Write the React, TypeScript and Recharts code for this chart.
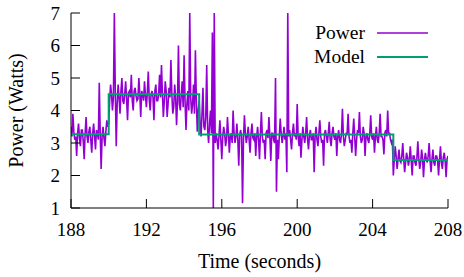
import React from 'react';
import { LineChart, Line, XAxis, YAxis, Legend, Label } from 'recharts';

const T_START = 188;
const T_STEP = 0.05;
// power samples, one row per second (20 samples each)
const powerWatts = [
  3.5, 3.2, 3.9, 3.35, 3.1, 3.2, 2.6, 3.3, 3.6, 3.15, 2.9, 3.4, 3.4, 3.05, 2.5, 3.3, 3.8, 3.2, 3.0, 3.35,
  3.5, 3.1, 2.7, 3.3, 3.6, 3.2, 2.8, 3.4, 3.3, 3.1, 4.85, 3.3, 2.2, 3.2, 3.5, 3.15, 2.9, 3.35, 3.7, 3.5,
  3.6, 4.3, 4.8, 4.5, 4.0, 4.4, 7.0, 4.6, 2.9, 4.2, 4.8, 4.4, 3.9, 4.6, 5.0, 4.3, 4.2, 4.5, 4.9, 4.35,
  3.7, 4.55, 4.6, 4.4, 5.1, 4.3, 4.0, 4.6, 4.7, 4.45, 4.3, 4.35, 5.0, 4.5, 3.8, 4.6, 4.5, 4.3, 4.9, 4.45,
  4.1, 4.55, 5.2, 4.35, 4.0, 4.5, 4.6, 4.4, 3.7, 4.6, 4.8, 4.3, 4.3, 4.5, 5.1, 4.4, 5.4, 4.5, 3.8, 4.3,
  4.9, 4.6, 3.8, 4.2, 4.7, 4.4, 5.55, 4.5, 3.9, 4.1, 4.8, 4.4, 3.55, 4.3, 6.0, 4.2, 4.0, 4.5, 4.9, 4.1,
  5.7, 4.3, 3.4, 4.2, 4.6, 4.0, 7.0, 4.4, 3.9, 4.2, 4.8, 3.9, 5.85, 4.3, 3.35, 4.0, 4.3, 3.6, 3.2, 3.9,
  4.7, 3.5, 3.4, 3.8, 5.4, 3.4, 3.0, 3.6, 4.0, 3.3, 6.4, 1.0, 7.0, 3.0, 3.3, 3.1, 2.8, 3.2, 3.7, 3.1,
  2.5, 3.2, 3.5, 3.3, 2.9, 3.1, 3.8, 3.3, 2.7, 3.2, 3.3, 3.0, 4.0, 3.3, 3.0, 3.2, 3.6, 3.1, 2.3, 3.25,
  3.4, 3.2, 1.15, 3.1, 3.85, 3.3, 3.0, 3.2, 3.5, 3.1, 2.7, 3.3, 3.6, 3.15, 3.1, 3.3, 2.6, 3.2, 3.5, 3.1,
  2.5, 3.3, 3.95, 3.2, 3.0, 3.1, 2.5, 3.3, 3.4, 3.15, 3.8, 3.2, 2.45, 3.3, 3.3, 3.1, 3.0, 5.0, 1.5, 3.1,
  2.5, 3.2, 3.75, 3.3, 3.0, 3.2, 3.5, 3.1, 3.3, 2.1, 7.0, 3.2, 3.4, 3.1, 2.8, 3.3, 3.6, 3.2, 3.3, 3.1,
  4.2, 3.2, 2.9, 3.3, 2.55, 3.1, 3.5, 3.2, 3.0, 3.3, 3.8, 3.1, 2.8, 3.25, 3.4, 3.1, 3.1, 3.3, 2.1, 3.2,
  3.5, 3.1, 2.9, 3.3, 3.7, 3.2, 3.0, 3.1, 2.3, 3.3, 3.4, 3.2, 3.0, 3.3, 3.65, 3.1, 2.9, 3.3, 3.5, 3.2,
  3.1, 3.3, 2.6, 3.2, 3.4, 3.1, 3.0, 3.3, 4.05, 3.2, 2.9, 3.1, 3.3, 3.3, 3.9, 3.2, 3.0, 3.1, 2.7, 3.3,
  3.75, 3.2, 2.6, 3.1, 3.4, 3.3, 3.95, 3.2, 3.0, 3.1, 3.5, 3.3, 2.6, 3.2, 3.3, 3.1, 3.0, 3.3, 3.85, 3.2,
  3.1, 3.3, 2.7, 3.2, 3.5, 3.1, 3.0, 3.3, 3.9, 3.2, 3.2, 3.1, 2.65, 3.3, 3.4, 3.2, 4.0, 3.3, 3.3, 3.1,
  3.0, 3.1, 2.0, 2.5, 2.9, 2.6, 2.2, 2.5, 2.8, 2.45, 2.4, 2.6, 3.0, 2.5, 2.1, 2.4, 2.7, 2.55, 2.3, 2.5,
  2.9, 2.45, 2.0, 2.6, 2.6, 2.4, 2.3, 2.55, 3.05, 2.5, 2.2, 2.4, 2.8, 2.55, 1.95, 2.45, 2.7, 2.5, 2.4, 2.6,
  3.0, 2.45, 2.1, 2.5, 2.8, 2.4, 2.3, 2.6, 2.6, 2.45, 2.0, 2.5, 2.9, 2.4, 2.2, 2.55, 2.7, 2.45, 1.95, 2.5,
  2.6,
];
const modelTimes = [188, 190.0, 194.8, 205.1, 208];
const modelWatts = [3.27, 4.5, 3.26, 2.48, 2.48];
const xTicks = [188, 192, 196, 200, 204, 208];
const yTicks = [1, 2, 3, 4, 5, 6, 7];

const powerData = powerWatts.map((p, i) => ({ t: +(T_START + i * T_STEP).toFixed(3), power: p }));
const modelData = modelTimes.map((t, i) => ({ t, model: modelWatts[i] }));

const FONT = "'Liberation Serif', 'Times New Roman', serif";
const POWER_COLOR = '#9400d3';
const MODEL_COLOR = '#009e73';

const legendContent = () => (
  <svg width={150} height={60} style={{ display: 'block' }}>
    <text x={77} y={19} textAnchor="end" style={{ fontFamily: FONT, fontSize: 19.5 }} fill="#000">Power</text>
    <line x1={89} x2={140} y1={13} y2={13} stroke={POWER_COLOR} strokeWidth={1.5} />
    <text x={77} y={43} textAnchor="end" style={{ fontFamily: FONT, fontSize: 19.5 }} fill="#000">Model</text>
    <line x1={89} x2={140} y1={37} y2={37} stroke={MODEL_COLOR} strokeWidth={2} />
  </svg>
);

const XTick = (props: any) => {
  const { x, y, payload } = props;
  return (
    <text x={x} y={y} dy="0.71em" textAnchor="middle" style={{ fontFamily: FONT, fontSize: 19 }} fill="#000">
      {payload.value}
    </text>
  );
};

const YTick = (props: any) => {
  const { x, y, payload } = props;
  return (
    <text x={x} y={y} dy="0.35em" textAnchor="end" style={{ fontFamily: FONT, fontSize: 19 }} fill="#000">
      {payload.value}
    </text>
  );
};

export default function App() {
  return (
    <div style={{ position: 'absolute', left: 0, top: 0, width: 464, height: 277, overflow: 'visible' }}>
      <LineChart
        width={464}
        height={277}
        margin={{ top: 13, right: 16, left: 8, bottom: 0 }}
        style={{ fontFamily: FONT }}
      >
        <XAxis
          xAxisId="b"
          dataKey="t"
          type="number"
          domain={[188, 208]}
          ticks={xTicks}
          interval={0}
          allowDataOverflow
          height={69}
          tickSize={-9}
          tickMargin={24}
          tick={<XTick />}
          stroke="#000"
        >
          <Label
            content={(props: any) => {
              const vb = props.viewBox;
              return (
                <text
                  x={vb.x + vb.width / 2}
                  y={vb.y + 60}
                  textAnchor="middle"
                  style={{ fontFamily: FONT, fontSize: 20 }}
                  fill="#000"
                >
                  Time (seconds)
                </text>
              );
            }}
          />
        </XAxis>
        <XAxis
          xAxisId="t"
          orientation="top"
          dataKey="t"
          type="number"
          domain={[188, 208]}
          ticks={xTicks}
          interval={0}
          allowDataOverflow
          height={0}
          tickSize={-9}
          tickFormatter={() => ''}
          stroke="#000"
        />
        <YAxis
          yAxisId="l"
          type="number"
          domain={[1, 7]}
          ticks={yTicks}
          interval={0}
          allowDataOverflow
          width={63}
          tickSize={-9}
          tickMargin={20}
          tick={<YTick />}
          stroke="#000"
        >
          <Label
            content={(props: any) => {
              const vb = props.viewBox;
              const cx = 16;
              const cy = vb.y + vb.height / 2;
              return (
                <text
                  x={cx}
                  y={cy}
                  dy="0.35em"
                  textAnchor="middle"
                  transform={`rotate(-90, ${cx}, ${cy})`}
                  style={{ fontFamily: FONT, fontSize: 20 }}
                  fill="#000"
                >
                  Power (Watts)
                </text>
              );
            }}
          />
        </YAxis>
        <YAxis
          yAxisId="r"
          orientation="right"
          type="number"
          domain={[1, 7]}
          ticks={yTicks}
          interval={0}
          allowDataOverflow
          width={0}
          tickSize={-9}
          tickFormatter={() => ''}
          stroke="#000"
        />
        <Legend
          layout="horizontal"
          verticalAlign="middle"
          align="center"
          content={legendContent}
          wrapperStyle={{ position: 'absolute', left: 288, top: 20, width: 150, height: 60 }}
        />
        <Line
          xAxisId="b"
          yAxisId="l"
          data={powerData}
          dataKey="power"
          type="linear"
          stroke={POWER_COLOR}
          strokeWidth={1.6}
          dot={false}
          isAnimationActive={false}
        />
        <Line
          xAxisId="b"
          yAxisId="l"
          data={modelData}
          dataKey="model"
          type="stepAfter"
          stroke={MODEL_COLOR}
          strokeWidth={2}
          dot={false}
          isAnimationActive={false}
        />
      </LineChart>
    </div>
  );
}
